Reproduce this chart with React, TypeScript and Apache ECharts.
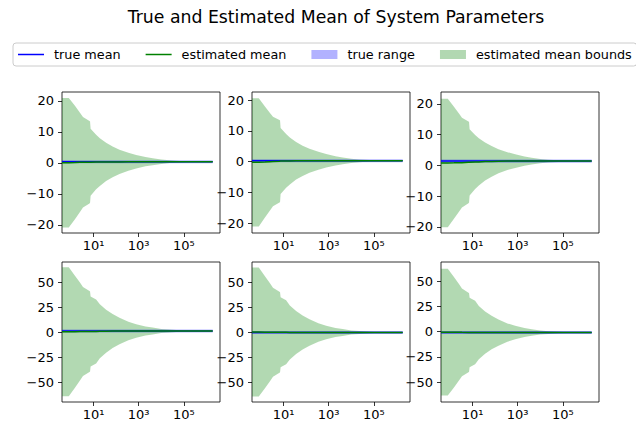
import React, { useEffect, useRef } from "react";
import * as echarts from "echarts";

// ---- data ----
const N_STEPS = [0.4, 0.8, 1.5, 2.5, 3.4, 6.6, 7.0, 7.4, 13, 19, 36, 70, 141, 350, 776, 2000, 4170, 10000, 23000, 63000, 200000, 1900000];
const X_SPAN = [0.4, 1900000];

const TRUE_MEAN = [0.4, 0.3, 1.4, 1.0, -0.5, -0.8];
const TRUE_LOW = [-0.1, -0.2, 0.9, -0.5, -2.0, -2.3];
const TRUE_HIGH = [0.9, 0.8, 1.9, 2.5, 1.0, 0.7];

const EST_MEAN_1 = [0.1, 0.1, 0.15, 0.2, 0.2, 0.25, 0.25, 0.25, 0.3, 0.3, 0.35, 0.35, 0.35, 0.4, 0.4, 0.4, 0.4, 0.4, 0.4, 0.4, 0.4, 0.4];
const EST_MEAN_2 = [-0.2, -0.2, -0.1, 0.0, 0.05, 0.15, 0.15, 0.2, 0.25, 0.25, 0.3, 0.3, 0.3, 0.3, 0.3, 0.3, 0.3, 0.3, 0.3, 0.3, 0.3, 0.3];
const EST_MEAN_3 = [0.8, 0.8, 0.85, 0.9, 0.9, 1.0, 1.0, 1.0, 1.1, 1.15, 1.25, 1.3, 1.35, 1.4, 1.4, 1.4, 1.4, 1.4, 1.4, 1.4, 1.4, 1.4];
const EST_MEAN_4 = [0.2, 0.2, 0.3, 0.4, 0.4, 0.5, 0.5, 0.5, 0.6, 0.7, 0.8, 0.9, 0.95, 1.0, 1.0, 1.0, 1.0, 1.0, 1.0, 1.0, 1.0, 1.0];
const EST_MEAN_5 = [-0.1, -0.1, -0.15, -0.2, -0.2, -0.25, -0.25, -0.3, -0.35, -0.4, -0.45, -0.5, -0.5, -0.5, -0.5, -0.5, -0.5, -0.5, -0.5, -0.5, -0.5, -0.5];
const EST_MEAN_6 = [-0.4, -0.4, -0.5, -0.55, -0.6, -0.65, -0.65, -0.7, -0.75, -0.8, -0.8, -0.8, -0.8, -0.8, -0.8, -0.8, -0.8, -0.8, -0.8, -0.8, -0.8, -0.8];

const UPPER_1 = [21.0, 21.0, 18.45, 16.2, 14.8, 13.55, 13.35, 11.05, 9.1, 8.0, 6.55, 5.35, 4.25, 3.3, 2.6, 1.9, 1.5, 1.1, 0.85, 0.65, 0.52, 0.44];
const LOWER_1 = [-20.8, -20.8, -18.15, -15.8, -14.4, -13.05, -12.85, -10.55, -8.5, -7.4, -5.85, -4.65, -3.55, -2.5, -1.8, -1.1, -0.7, -0.3, -0.05, 0.15, 0.28, 0.36];
const UPPER_2 = [20.6, 20.6, 17.9, 15.8, 14.55, 13.55, 13.35, 10.9, 8.95, 7.85, 6.4, 5.2, 4.2, 3.2, 2.5, 1.8, 1.4, 1.0, 0.75, 0.55, 0.42, 0.34];
const LOWER_2 = [-21.0, -21.0, -18.1, -15.8, -14.45, -13.25, -13.05, -10.5, -8.45, -7.35, -5.8, -4.6, -3.6, -2.6, -1.9, -1.2, -0.8, -0.4, -0.15, 0.05, 0.18, 0.26];
const UPPER_3 = [21.7, 21.7, 19.1, 16.9, 15.5, 14.3, 14.1, 11.8, 9.9, 8.85, 7.45, 6.3, 5.25, 4.3, 3.6, 2.9, 2.5, 2.1, 1.85, 1.65, 1.52, 1.44];
const LOWER_3 = [-20.1, -20.1, -17.4, -15.1, -13.7, -12.3, -12.1, -9.8, -7.7, -6.55, -4.95, -3.7, -2.55, -1.5, -0.8, -0.1, 0.3, 0.7, 0.95, 1.15, 1.28, 1.36];
const UPPER_4 = [64.7, 64.7, 56.3, 49.4, 44.9, 41.0, 40.5, 35.5, 32.6, 27.7, 22.3, 17.9, 14.25, 10.3, 7.8, 5.6, 4.4, 3.1, 2.4, 1.8, 1.37, 1.12];
const LOWER_4 = [-64.3, -64.3, -55.7, -48.6, -44.1, -40.0, -39.5, -34.5, -31.4, -26.3, -20.7, -16.1, -12.35, -8.3, -5.8, -3.6, -2.4, -1.1, -0.4, 0.2, 0.63, 0.88];
const UPPER_5 = [64.4, 64.4, 55.85, 48.8, 44.3, 40.25, 39.75, 34.7, 31.65, 26.6, 21.05, 16.5, 12.8, 8.8, 6.3, 4.1, 2.9, 1.6, 0.9, 0.3, -0.13, -0.38];
const LOWER_5 = [-64.6, -64.6, -56.15, -49.2, -44.7, -40.75, -40.25, -35.3, -32.35, -27.4, -21.95, -17.5, -13.8, -9.8, -7.3, -5.1, -3.9, -2.6, -1.9, -1.3, -0.87, -0.62];
const UPPER_6 = [62.6, 62.6, 54.5, 47.45, 42.9, 38.85, 38.35, 33.8, 30.75, 25.7, 20.2, 15.9, 12.2, 8.3, 5.9, 3.7, 2.5, 1.2, 0.55, -0.05, -0.45, -0.68];
const LOWER_6 = [-63.4, -63.4, -55.5, -48.55, -44.1, -40.15, -39.65, -35.2, -32.25, -27.3, -21.8, -17.5, -13.8, -9.9, -7.5, -5.3, -4.1, -2.8, -2.15, -1.55, -1.15, -0.92];

const Y_MIN = [-22.6, -23.1, -22.0, -70, -70, -69.8];
const Y_MAX = [22.9, 22.6, 23.9, 70, 70, 69.3];
const Y_TICKS_TOP = [-20, -10, 0, 10, 20];
const Y_TICKS_BOTTOM = [-50, -25, 0, 25, 50];
const X_TICKS = [10, 1000, 100000];
const X_MIN = 0.4;
const X_MAX = 4000000;

const EST_MEANS = [EST_MEAN_1, EST_MEAN_2, EST_MEAN_3, EST_MEAN_4, EST_MEAN_5, EST_MEAN_6];
const UPPERS = [UPPER_1, UPPER_2, UPPER_3, UPPER_4, UPPER_5, UPPER_6];
const LOWERS = [LOWER_1, LOWER_2, LOWER_3, LOWER_4, LOWER_5, LOWER_6];

const TITLE = "True and Estimated Mean of System Parameters";
const LEGEND_NAMES = ["true mean", "estimated mean", "true range", "estimated mean bounds"];

// ---- layout / style ----
const FONT = "DejaVu Sans";
const GRID_LEFTS = [62, 252, 441];
const GRID_TOPS = [92, 262];
const GRID_W = 158;
const GRID_HS = [141, 140];

const SUP: Record<string, string> = { "0": "\u2070", "1": "\u00b9", "2": "\u00b2", "3": "\u00b3", "4": "\u2074", "5": "\u2075", "6": "\u2076", "-": "\u207b" };
const fmtLog = (v: number) => {
  const e = String(Math.round(Math.log10(v)));
  return "10" + e.split("").map((c) => SUP[c] || c).join("");
};
const fmtMinus = (v: number) => String(v).replace("-", "\u2212");

// band between two curves: a polygon through the series' own points, mapped by the axes
const bandRenderer = (fill: string) => (params: any, api: any) => {
  if (params.dataIndexInside !== 0) return null;
  const n = params.dataInsideLength;
  const top: number[][] = [];
  const bottom: number[][] = [];
  for (let k = 0; k < n; k++) {
    const x = api.value(0, k);
    top.push(api.coord([x, api.value(2, k)]));
    bottom.push(api.coord([x, api.value(1, k)]));
  }
  return {
    type: "polygon",
    shape: { points: top.concat(bottom.reverse()) },
    style: { fill, stroke: "none" },
    silent: true,
  };
};

function buildOption() {
  const grids: any[] = [];
  const xAxes: any[] = [];
  const yAxes: any[] = [];
  const series: any[] = [];
  for (let i = 0; i < 6; i++) {
    const row = Math.floor(i / 3);
    const col = i % 3;
    grids.push({
      left: GRID_LEFTS[col],
      top: GRID_TOPS[row],
      width: GRID_W,
      height: GRID_HS[row],
      show: true,
      borderColor: "#000",
      borderWidth: 0.8,
      backgroundColor: "transparent",
      containLabel: false,
    });
    xAxes.push({
      type: "log",
      logBase: 10,
      gridIndex: i,
      position: "bottom",
      min: X_MIN,
      max: X_MAX,
      axisLine: { show: false, onZero: false },
      splitLine: { show: false },
      minorTick: { show: false },
      axisTick: { show: true, length: 4, customValues: X_TICKS, lineStyle: { color: "#000", width: 0.8 } },
      axisLabel: {
        show: true,
        customValues: X_TICKS,
        formatter: fmtLog,
        margin: 6,
        fontFamily: FONT,
        fontSize: 13,
        color: "#000",
      },
    });
    const ticks = row === 0 ? Y_TICKS_TOP : Y_TICKS_BOTTOM;
    yAxes.push({
      type: "value",
      gridIndex: i,
      position: "left",
      min: Y_MIN[i],
      max: Y_MAX[i],
      axisLine: { show: false, onZero: false },
      splitLine: { show: false },
      axisTick: { show: true, length: 4, customValues: ticks, lineStyle: { color: "#000", width: 0.8 } },
      axisLabel: {
        show: true,
        customValues: ticks,
        formatter: fmtMinus,
        margin: 8,
        fontFamily: FONT,
        fontSize: 13,
        color: "#000",
      },
    });

    const est = EST_MEANS[i];
    const up = UPPERS[i];
    const lo = LOWERS[i];

    series.push({
      type: "custom",
      name: "estimated mean bounds",
      xAxisIndex: i,
      yAxisIndex: i,
      silent: true,
      color: "rgba(0,128,0,0.3)",
      renderItem: bandRenderer("rgba(0,128,0,0.3)"),
      encode: { x: 0, y: [1, 2] },
      data: N_STEPS.map((x, j) => [x, lo[j], up[j]]),
      z: 1,
    });
    series.push({
      type: "custom",
      name: "true range",
      xAxisIndex: i,
      yAxisIndex: i,
      silent: true,
      color: "rgba(0,0,255,0.3)",
      renderItem: bandRenderer("rgba(0,0,255,0.3)"),
      encode: { x: 0, y: [1, 2] },
      data: X_SPAN.map((x) => [x, TRUE_LOW[i], TRUE_HIGH[i]]),
      z: 2,
    });
    series.push({
      type: "line",
      name: "true mean",
      xAxisIndex: i,
      yAxisIndex: i,
      symbol: "none",
      silent: true,
      color: "#0000ff",
      lineStyle: { width: 1.5, color: "#0000ff" },
      data: X_SPAN.map((x) => [x, TRUE_MEAN[i]]),
      z: 3,
    });
    series.push({
      type: "line",
      name: "estimated mean",
      xAxisIndex: i,
      yAxisIndex: i,
      symbol: "none",
      silent: true,
      color: "#008000",
      lineStyle: { width: 1.5, color: "#008000" },
      data: N_STEPS.map((x, j) => [x, est[j]]),
      z: 4,
    });
  }

  const lineIcon = "path://M0 0H26V1.5H0Z";
  return {
    animation: false,
    backgroundColor: "#fff",
    title: {
      text: TITLE,
      left: 336,
      top: 8,
      padding: 0,
      textAlign: "center",
      textStyle: { fontFamily: FONT, fontSize: 17.3, fontWeight: "normal", color: "#000" },
    },
    legend: {
      left: 13,
      top: 43,
      width: 800,
      orient: "horizontal",
      padding: [5, 5, 5, 5],
      itemGap: 25,
      itemWidth: 26,
      itemHeight: 9,
      backgroundColor: "#fff",
      borderColor: "#cccccc",
      borderWidth: 1,
      borderRadius: 3,
      selectedMode: false,
      itemStyle: { borderWidth: 0 },
      textStyle: { fontFamily: FONT, fontSize: 12.8, color: "#000", padding: [0, 0, 0, 5] },
      data: [
        { name: LEGEND_NAMES[0], icon: lineIcon, itemStyle: { color: "#0000ff", borderWidth: 0 } },
        { name: LEGEND_NAMES[1], icon: lineIcon, itemStyle: { color: "#008000", borderWidth: 0 } },
        { name: LEGEND_NAMES[2], icon: "rect", itemStyle: { color: "#b2b2ff", borderWidth: 0 } },
        { name: LEGEND_NAMES[3], icon: "rect", itemStyle: { color: "#b2d8b2", borderWidth: 0 } },
      ],
    },
    grid: grids,
    xAxis: xAxes,
    yAxis: yAxes,
    series,
  };
}

export default function App() {
  const ref = useRef<HTMLDivElement>(null);
  useEffect(() => {
    if (!ref.current) return;
    const chart = echarts.init(ref.current, undefined, { renderer: "svg" });
    chart.setOption(buildOption() as any);
    return () => chart.dispose();
  }, []);
  return (
    <div
      ref={ref}
      style={{ position: "absolute", left: 0, top: 0, width: 636, height: 422, background: "#fff" }}
    />
  );
}
